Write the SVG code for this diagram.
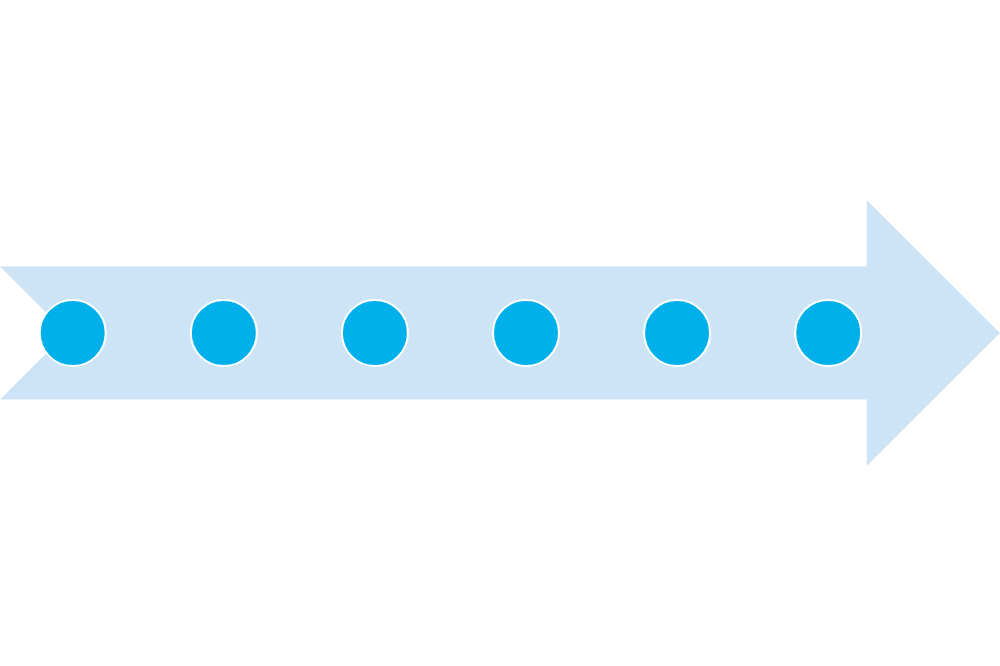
<svg xmlns="http://www.w3.org/2000/svg" width="1000" height="666" viewBox="0 0 1000 666">
<style>
.arrow{fill:#CDE4F7;}
.dot{fill:#00B0EB;stroke:#FFFFFF;stroke-width:2;}
</style>
<rect width="1000" height="666" fill="#FFFFFF"/>
<g id="arrow">
<polygon class="arrow" points="0,266.5 866.7,266.5 866.7,200 1000,333 866.7,466 866.7,399.5 0,399.5 66.5,333"/>
</g>
<g id="connectors"></g>
<g id="node1"><circle class="dot" cx="72.7" cy="333" r="33"/></g>
<g id="node2"><circle class="dot" cx="223.8" cy="333" r="33"/></g>
<g id="node3"><circle class="dot" cx="374.9" cy="333" r="33"/></g>
<g id="node4"><circle class="dot" cx="526" cy="333" r="33"/></g>
<g id="node5"><circle class="dot" cx="677.1" cy="333" r="33"/></g>
<g id="node6"><circle class="dot" cx="828.2" cy="333" r="33"/></g>
</svg>
